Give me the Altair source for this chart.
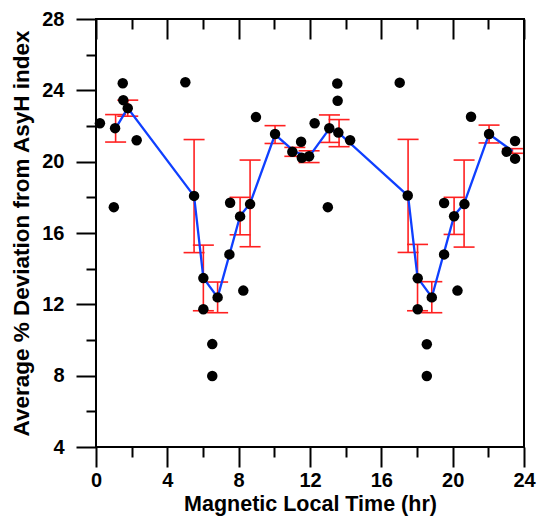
import altair as alt
import pandas as pd

# scatter points (Magnetic local time, % deviation)
pt_x = [0.22, 1.0, 1.07, 1.5, 1.53, 1.78, 2.28, 5.01, 5.5, 6.02, 6.02, 6.52, 6.52, 6.82,
        7.48, 7.52, 8.08, 8.26, 8.64, 8.97, 10.04, 11.01, 11.5, 11.54, 11.95,
        12.26, 13.0, 13.08, 13.53, 13.55, 13.59, 14.25, 17.03, 17.48, 18.04, 18.04,
        18.55, 18.55, 18.83, 19.52, 19.52, 20.08, 20.27, 20.66, 21.03, 22.04,
        23.03, 23.5, 23.5]
pt_y = [22.15, 17.45, 21.88, 24.4, 23.45, 23.0, 21.2, 24.45, 18.08, 13.47, 11.72, 9.77, 7.98, 12.39,
        14.8, 17.7, 16.93, 12.77, 17.62, 22.5, 21.55, 20.56, 21.12, 20.22, 20.3,
        22.15, 17.45, 21.87, 24.38, 23.42, 21.63, 21.2, 24.43, 18.1, 13.46, 11.72,
        9.76, 7.98, 12.39, 14.8, 17.68, 16.94, 12.77, 17.62, 22.52, 21.55,
        20.56, 21.16, 20.17]

# binned averages with error
mean_x = [1.1, 1.78, 5.5, 6.02, 6.82, 8.08, 8.64, 10.04, 11.15, 11.95,
          13.09, 13.63, 17.5, 18.03, 18.83, 20.08, 20.64, 22.04, 23.35]
mean_y = [21.87, 23.0, 18.07, 13.48, 12.39, 16.95, 17.66, 21.52, 20.55, 20.28,
          21.85, 21.6, 18.08, 13.5, 12.4, 16.96, 17.65, 21.55, 20.6]
mean_err = [0.77, 0.45, 3.17, 1.84, 0.86, 1.05, 2.43, 0.5, 0.25, 0.33,
            0.77, 0.76, 3.17, 1.86, 0.87, 1.04, 2.44, 0.5, 0.13]

x_major = [0, 4, 8, 12, 16, 20, 24]
x_minor = [2, 6, 10, 14, 18, 22]
y_major = [4, 8, 12, 16, 20, 24, 28]
y_minor = [6, 10, 14, 18, 22, 26]

pts = pd.DataFrame({"mlt": pt_x, "dev": pt_y})
means = pd.DataFrame({
    "mlt": mean_x, "dev": mean_y,
    "lo": [m - e for m, e in zip(mean_y, mean_err)],
    "hi": [m + e for m, e in zip(mean_y, mean_err)],
})

FONT = "Liberation Sans"
xs = alt.Scale(domain=[0, 24], nice=False, zero=False)
ys = alt.Scale(domain=[4, 28], nice=False, zero=False)


def ax(orient, values, size, labels=False, title=None, offset=0, tsize=22, **kw):
    return alt.Axis(orient=orient, values=values, tickSize=size, tickWidth=2,
                    tickColor="black", domain=False, grid=False, labels=labels,
                    title=title, offset=offset, labelFont=FONT, labelFontSize=20,
                    labelFontWeight="bold", labelColor="black", labelFlush=False,
                    labelOverlap=False, titleFont=FONT, titleFontSize=tsize,
                    titleFontWeight="bold", titleColor="black", **kw)


bars = alt.Chart(means).mark_rule(color="#ff2020", strokeWidth=1.6).encode(
    x=alt.X("mlt:Q", scale=xs, axis=ax("bottom", x_minor, 10)),
    y=alt.Y("lo:Q", scale=ys, axis=ax("left", y_minor, 10)),
    y2="hi:Q",
)
caps_lo = alt.Chart(means).mark_tick(orient="horizontal", size=21, thickness=1.6,
                                     color="#ff2020", opacity=1).encode(
    x=alt.X("mlt:Q", scale=xs, axis=ax("top", x_major, 20, offset=-20)),
    y=alt.Y("lo:Q", scale=ys, axis=None),
)
caps_hi = alt.Chart(means).mark_tick(orient="horizontal", size=21, thickness=1.6,
                                     color="#ff2020", opacity=1).encode(
    x=alt.X("mlt:Q", scale=xs, axis=ax("top", x_minor, 10, offset=-10)),
    y=alt.Y("hi:Q", scale=ys, axis=None),
)
line = alt.Chart(means).mark_line(color="#0f3fff", strokeWidth=2.3).encode(
    x=alt.X("mlt:Q", scale=xs, axis=None),
    y=alt.Y("dev:Q", scale=ys, axis=None),
)
dots = alt.Chart(pts).mark_circle(size=110, color="black", opacity=1).encode(
    x=alt.X("mlt:Q", scale=xs,
            axis=ax("bottom", x_major, 20, labels=True, tsize=21.5,
                    title="Magnetic Local Time (hr)", labelPadding=3, titlePadding=3)),
    y=alt.Y("dev:Q", scale=ys,
            axis=ax("left", y_major, 20, labels=True, tsize=22.5,
                    title="Average % Deviation from AsyH index",
                    labelPadding=12, titlePadding=8)),
)

chart = alt.layer(bars, caps_lo, caps_hi, line, dots).resolve_axis(
    x="independent", y="independent"
).properties(
    width=428, height=428,
    autosize=alt.AutoSizeParams(type="none"),
    padding={"left": 96, "top": 19, "right": 14, "bottom": 76},
).configure_view(stroke="black", strokeWidth=2)

chart.save("out.html", embed_options={"renderer": "svg", "actions": False})
